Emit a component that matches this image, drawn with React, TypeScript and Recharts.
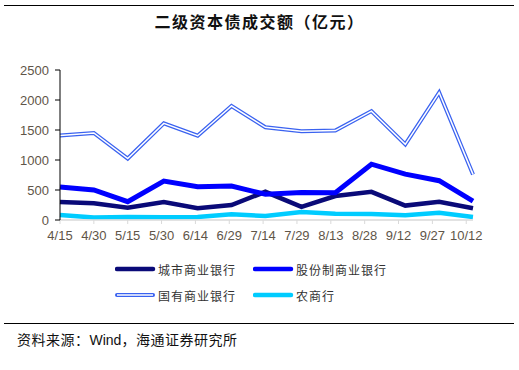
import React from 'react';
import { LineChart, Line, XAxis, YAxis } from 'recharts';

// semi-monthly observation dates
const dates = ['4/15', '4/30', '5/15', '5/31', '6/15', '6/30', '7/15', '7/31', '8/15', '8/31', '9/15', '9/30', '10/15'];
const tickLabels = ['4/15', '4/30', '5/15', '5/30', '6/14', '6/29', '7/14', '7/29', '8/13', '8/28', '9/12', '9/27', '10/12'];

const cityBanks = [300, 280, 205, 300, 195, 250, 470, 220, 400, 470, 240, 305, 195];
const jointStockBanks = [550, 500, 305, 650, 555, 565, 430, 460, 455, 930, 765, 655, 315];
const stateBanks = [1410, 1450, 1025, 1610, 1405, 1900, 1545, 1480, 1490, 1815, 1260, 2125, 760];
const ruralBanks = [85, 40, 50, 45, 50, 95, 65, 135, 105, 100, 78, 120, 50];

const yTicks = [0, 500, 1000, 1500, 2000, 2500];

const dayOffset = (md: string) => {
  const [m, d] = md.split('/').map(Number);
  return Math.round((Date.UTC(2019, m - 1, d) - Date.UTC(2019, 3, 15)) / 86400000);
};

const data = dates.map((d, i) => ({
  day: dayOffset(d),
  city: cityBanks[i],
  joint: jointStockBanks[i],
  state: stateBanks[i],
  rural: ruralBanks[i],
}));

const xTicks = tickLabels.map(dayOffset);
const labelFor = (v: number) => tickLabels[xTicks.indexOf(v)] ?? '';

const FONT = '"Liberation Sans", Arial, sans-serif';
const CJK = '"Noto Sans CJK SC", sans-serif';
const TICK_COLOR = '#5f5548';

const LegendItem = ({ x, y, color, label, double }: { x: number; y: number; color: string; label: string; double?: boolean }) => (
  <div style={{ position: 'absolute', left: x, top: y - 9, height: 18, display: 'flex', alignItems: 'center' }}>
    <svg width={42} height={8} style={{ display: 'block' }}>
      <line x1={2} y1={4} x2={38} y2={4} stroke={color} strokeWidth={double ? 4 : 4.5} strokeLinecap="round" />
      {double && <line x1={2} y1={4} x2={38} y2={4} stroke="#fff" strokeWidth={1.5} />}
    </svg>
    <span style={{ fontFamily: CJK, fontSize: 12, color: '#333', marginLeft: 1, letterSpacing: 1 }}>{label}</span>
  </div>
);

export default function App() {
  return (
    <div style={{ position: 'absolute', left: 0, top: 0, width: 519, height: 370, background: '#fff', overflow: 'hidden' }}>
      <div style={{ position: 'absolute', left: 4, top: 5, width: 510, height: 0, borderTop: '1.5px solid #000' }} />
      <div style={{ position: 'absolute', left: 0, top: 9, width: 519, textAlign: 'center', fontFamily: CJK, fontWeight: 'bold', fontSize: 16, letterSpacing: 1.5, color: '#111' }}>
        二级资本债成交额（亿元）
      </div>
      <LineChart width={519} height={370} data={data} margin={{ top: 70, right: 46, bottom: 120, left: 10 }} style={{ position: 'absolute', left: 0, top: 0 }}>
        <XAxis
          dataKey="day"
          type="number"
          domain={[0, 183]}
          ticks={xTicks}
          tickFormatter={labelFor}
          interval={0}
          axisLine={{ stroke: '#d9d9d9', strokeWidth: 1.5 }}
          tickLine={{ stroke: '#d9d9d9' }}
          tickSize={4}
          tickMargin={7}
          height={30}
          tick={{ fill: TICK_COLOR, fontSize: 13, fontFamily: FONT }}
        />
        <YAxis
          domain={[0, 2500]}
          ticks={yTicks}
          width={50}
          interval={0}
          axisLine={{ stroke: '#000' }}
          tickLine={{ stroke: '#000' }}
          tickSize={5}
          tickMargin={6}
          tick={{ fill: TICK_COLOR, fontSize: 13, fontFamily: FONT }}
        />
        <Line dataKey="state" stroke="#3a62f0" strokeWidth={4} dot={false} isAnimationActive={false} strokeLinejoin="miter" />
        <Line dataKey="state" stroke="#ffffff" strokeWidth={1.5} dot={false} isAnimationActive={false} strokeLinejoin="miter" />
        <Line dataKey="rural" stroke="#00ccff" strokeWidth={4.5} dot={false} isAnimationActive={false} />
        <Line dataKey="city" stroke="#0a0a78" strokeWidth={4.5} dot={false} isAnimationActive={false} />
        <Line dataKey="joint" stroke="#0000ff" strokeWidth={5} dot={false} isAnimationActive={false} />
      </LineChart>
      <LegendItem x={115} y={269} color="#0a0a78" label="城市商业银行" />
      <LegendItem x={253} y={269} color="#0000ff" label="股份制商业银行" />
      <LegendItem x={115} y={295} color="#3a62f0" label="国有商业银行" double />
      <LegendItem x={253} y={295} color="#00ccff" label="农商行" />
      <div style={{ position: 'absolute', left: 4, top: 323, width: 510, height: 0, borderTop: '1.5px solid #000' }} />
      <div style={{ position: 'absolute', left: 17, top: 329, fontFamily: CJK, fontSize: 14, letterSpacing: 0.5, color: '#111' }}>
        资料来源：<span style={{ fontFamily: FONT, letterSpacing: 0 }}>Wind</span>，海通证券研究所
      </div>
    </div>
  );
}
